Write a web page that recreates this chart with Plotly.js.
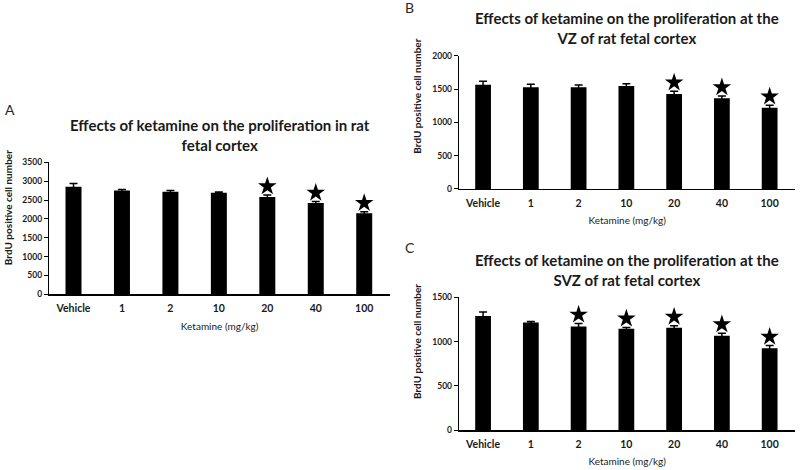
<!DOCTYPE html>
<html>
<head>
<meta charset="utf-8">
<script src="https://cdn.plot.ly/plotly-3.0.1.min.js"></script>
<style>html,body{margin:0;padding:0;background:#fff;}#chart{width:800px;height:470px;}</style>
</head>
<body>
<div id="chart"></div>
<script>
// ---- data ----
const doses = ['Vehicle', '1', '2', '10', '20', '40', '100'];

const totalMean = [2850, 2750, 2720, 2690, 2580, 2420, 2150];
const totalErr  = [90, 30, 30, 20, 50, 40, 40];
const totalSig  = [false, false, false, false, true, true, true];

const vzMean = [1565, 1525, 1525, 1545, 1425, 1360, 1220];
const vzErr  = [50, 45, 35, 35, 40, 35, 35];
const vzSig  = [false, false, false, false, true, true, true];

const svzMean = [1290, 1215, 1170, 1145, 1155, 1065, 925];
const svzErr  = [45, 12, 35, 15, 25, 30, 30];
const svzSig  = [false, false, true, true, true, true, true];

const titles = [
  'Effects of ketamine on the proliferation in rat<br>fetal cortex',
  'Effects of ketamine on the proliferation at the<br>VZ of rat fetal cortex',
  'Effects of ketamine on the proliferation at the<br>SVZ of rat fetal cortex'
];
const panelLetters = ['A', 'B', 'C'];
const yTitle = 'BrdU positive cell number';
const xTitle = 'Ketamine (mg/kg)';
const yMax = [3500, 2000, 1500];

// ---- build ----
const FONT = 'Lato, "Open Sans", sans-serif';
const panels = [
  {mean: totalMean, err: totalErr, sig: totalSig, xa: 'x', ya: 'y'},
  {mean: vzMean, err: vzErr, sig: vzSig, xa: 'x2', ya: 'y2'},
  {mean: svzMean, err: svzErr, sig: svzSig, xa: 'x3', ya: 'y3'}
];

const traces = [];
panels.forEach((p, i) => {
  traces.push({
    type: 'bar', x: doses, y: p.mean, xaxis: p.xa, yaxis: p.ya,
    marker: {color: '#000000'},
    error_y: {type: 'data', array: p.err, symmetric: true, color: '#000000', thickness: 1.5, width: 4},
    showlegend: false, hoverinfo: 'x+y'
  });
  const sx = [], sy = [];
  p.sig.forEach((s, k) => {
    if (s) { sx.push(doses[k]); sy.push(p.mean[k] + p.err[k] + 0.066 * yMax[i]); }
  });
  traces.push({
    type: 'scatter', mode: 'markers', x: sx, y: sy, xaxis: p.xa, yaxis: p.ya,
    marker: {symbol: 'star', size: 14, color: '#000000'},
    showlegend: false, hoverinfo: 'skip'
  });
});

function xax(domain, anchor) {
  return {
    type: 'category', categoryorder: 'array', categoryarray: doses,
    domain: domain, anchor: anchor, showgrid: false, zeroline: false,
    showline: true, linecolor: '#000', linewidth: 1.5, ticks: '',
    ticklabelstandoff: 4,
    tickfont: {family: FONT, size: 10.5, color: '#1a1a1a', weight: 'bold'},
    title: {text: xTitle, font: {family: FONT, size: 10, color: '#1a1a1a'}, standoff: 9},
    fixedrange: true
  };
}
function yax(domain, anchor, max) {
  return {
    domain: domain, anchor: anchor, range: [0, max], dtick: 500,
    showgrid: false, zeroline: false, showline: true, linecolor: '#000', linewidth: 1.5,
    ticks: 'outside', ticklen: 4, tickwidth: 1, tickcolor: '#000',
    tickfont: {family: FONT, size: 8.5, color: '#1a1a1a', weight: 'bold'},
    fixedrange: true
  };
}

const annotations = [];
const titlePos = [[0.2745, 0.7128], [0.784, 0.9404], [0.784, 0.4248]];
const letterPos = [[0.004, 0.766], [0.504, 0.985], [0.504, 0.474]];
// y-axis title centres (paper coords)
const yTitlePos = [[0.010, 0.557], [0.521, 0.796], [0.521, 0.274]];
titles.forEach((t, i) => {
  annotations.push({
    text: '<b>' + t + '</b>', xref: 'paper', yref: 'paper',
    x: titlePos[i][0], y: titlePos[i][1], xanchor: 'center', yanchor: 'middle',
    showarrow: false, align: 'center',
    font: {family: FONT, size: 15, color: '#1a1a1a'}
  });
  annotations.push({
    text: panelLetters[i], xref: 'paper', yref: 'paper',
    x: letterPos[i][0], y: letterPos[i][1], xanchor: 'left', yanchor: 'middle',
    showarrow: false, font: {family: FONT, size: 14, color: '#262626'}
  });
  annotations.push({
    text: '<b>' + yTitle + '</b>', xref: 'paper', yref: 'paper',
    x: yTitlePos[i][0], y: yTitlePos[i][1], xanchor: 'center', yanchor: 'middle',
    textangle: -90, showarrow: false,
    font: {family: FONT, size: 10, color: '#1a1a1a'}
  });
});

const layout = {
  width: 800, height: 470,
  margin: {l: 0, r: 0, t: 0, b: 0},
  paper_bgcolor: '#ffffff', plot_bgcolor: '#ffffff',
  bargap: 0.67,
  xaxis: xax([0.0616, 0.4875], 'y'),
  yaxis: yax([0.3738, 0.6547], 'x', yMax[0]),
  xaxis2: xax([0.574, 0.994], 'y2'),
  yaxis2: yax([0.5979, 0.8815], 'x2', yMax[1]),
  xaxis3: xax([0.574, 0.994], 'y3'),
  yaxis3: yax([0.0851, 0.3674], 'x3', yMax[2]),
  annotations: annotations
};

Plotly.newPlot('chart', traces, layout, {displayModeBar: false, staticPlot: true});
</script>
</body>
</html>
